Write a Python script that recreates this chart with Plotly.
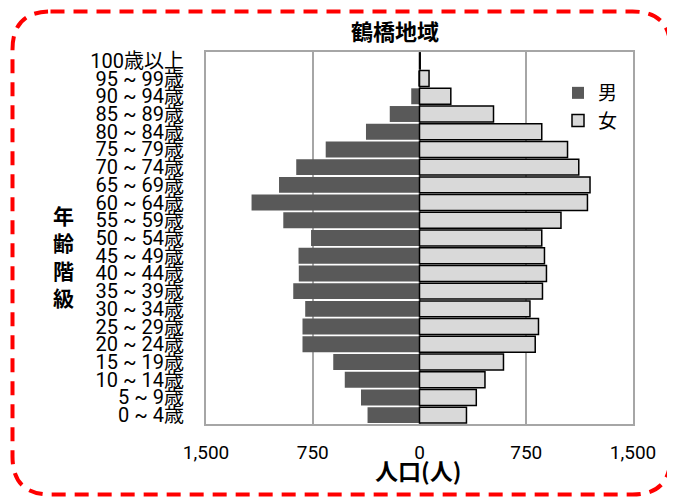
import plotly.graph_objects as go

age_groups = ["0 ~ 4歳", "5 ~ 9歳", "10 ~ 14歳", "15 ~ 19歳", "20 ~ 24歳", "25 ~ 29歳",
              "30 ~ 34歳", "35 ~ 39歳", "40 ~ 44歳", "45 ~ 49歳", "50 ~ 54歳", "55 ~ 59歳",
              "60 ~ 64歳", "65 ~ 69歳", "70 ~ 74歳", "75 ~ 79歳", "80 ~ 84歳", "85 ~ 89歳",
              "90 ~ 94歳", "95 ~ 99歳", "100歳以上"]
male = [365, 411, 525, 606, 822, 822, 803, 887, 848, 850, 762, 957,
        1180, 987, 866, 659, 376, 209, 58, 5, 3]
female = [330, 399, 460, 590, 813, 836, 776, 864, 892, 878, 859, 994,
          1180, 1198, 1119, 1040, 859, 520, 220, 67, 5]
x_tickvals = [-1500, -750, 0, 750, 1500]
x_ticktext = ["1,500", "750", "0", "750", "1,500"]

FONT = "Roboto, 'Noto Sans CJK JP', sans-serif"
CJK = "'Noto Sans CJK JP', sans-serif"

fig = go.Figure()
fig.add_trace(go.Bar(y=age_groups, x=[-v for v in male], orientation="h", name="男",
                     marker=dict(color="#595959", line=dict(width=0)),
                     customdata=male, hovertemplate="%{y}: %{customdata}<extra>男</extra>"))
fig.add_trace(go.Bar(y=age_groups, x=female, orientation="h", name="女",
                     marker=dict(color="#d9d9d9", line=dict(color="#000000", width=1.5))))

# page body has an 8px margin: figure occupies window x 8..675, y 8..498
O = 8
WW, WH = 675, 498
W, H = WW - O, WH - O
PL, PR, PT, PB = 206, 633, 52, 424  # plot area in window pixels
L, R, T, B = PL - O, WW - PR, PT - O, WH - PB
pw, ph = PR - PL, PB - PT

def px(x):
    return (x - PL) / pw

def py(y):
    return (PB - y) / ph

# rounded dashed border
x0, x1, y0, y1, rad = 12.5, 670.5, 11.5, 494.5, 38
path = (f"M {px(x0+rad)},{py(y0)} L {px(x1-rad)},{py(y0)} "
        f"Q {px(x1)},{py(y0)} {px(x1)},{py(y0+rad)} "
        f"L {px(x1)},{py(y1-rad)} Q {px(x1)},{py(y1)} {px(x1-rad)},{py(y1)} "
        f"L {px(x0+rad)},{py(y1)} Q {px(x0)},{py(y1)} {px(x0)},{py(y1-rad)} "
        f"L {px(x0)},{py(y0+rad)} Q {px(x0)},{py(y0)} {px(x0+rad)},{py(y0)} Z")
fig.add_shape(type="path", path=path, xref="paper", yref="paper",
              line=dict(color="#ff0000", width=4, dash="14px,9px"), layer="above")

fig.add_annotation(text="<b>鶴橋地域</b>", x=px(395), y=py(30), xref="paper", yref="paper",
                   xanchor="center", yanchor="middle",
                   showarrow=False, font=dict(family=CJK, size=22, color="#000"))
fig.add_annotation(text="<b>人口(人)</b>", x=px(418), y=py(470), xref="paper", yref="paper",
                   xanchor="center", yanchor="middle",
                   showarrow=False, font=dict(family=CJK, size=23, color="#000"))
fig.add_annotation(text="<b>年<br>齢<br>階<br>級</b>", x=px(63), y=py(256), xref="paper", yref="paper",
                   xanchor="center", yanchor="middle",
                   showarrow=False, font=dict(family=CJK, size=21, color="#000"))

fig.update_layout(
    width=W, height=H,
    margin=dict(l=L, r=R, t=T, b=B),
    paper_bgcolor="white", plot_bgcolor="white",
    barmode="relative", bargap=0.1,
    showlegend=True,
    legend=dict(x=px(558), y=py(74), xanchor="left", yanchor="top",
                bgcolor="rgba(0,0,0,0)", traceorder="normal",
                font=dict(family=CJK, size=19, color="#000"),
                itemwidth=30, tracegroupgap=0),
    font=dict(family=FONT, color="#000"),
)
fig.update_xaxes(range=[-1500, 1500], tickmode="array", tickvals=x_tickvals, ticktext=x_ticktext,
                 showgrid=True, gridcolor="#a6a6a6", gridwidth=2,
                 zeroline=True, zerolinecolor="#a6a6a6", zerolinewidth=2,
                 showline=True, linecolor="#a6a6a6", linewidth=2, mirror=True,
                 ticks="", ticklabelstandoff=10,
                 tickfont=dict(family=FONT, size=19, color="#000"), fixedrange=True)
fig.update_yaxes(type="category", categoryorder="array", categoryarray=age_groups,
                 tickmode="array", tickvals=age_groups, ticktext=age_groups,
                 showgrid=False, showline=True, linecolor="#a6a6a6", linewidth=2, mirror=True,
                 ticks="", ticklabelstandoff=16,
                 tickfont=dict(family=FONT, size=20, color="#000"), fixedrange=True)

fig.write_html("out.html")
